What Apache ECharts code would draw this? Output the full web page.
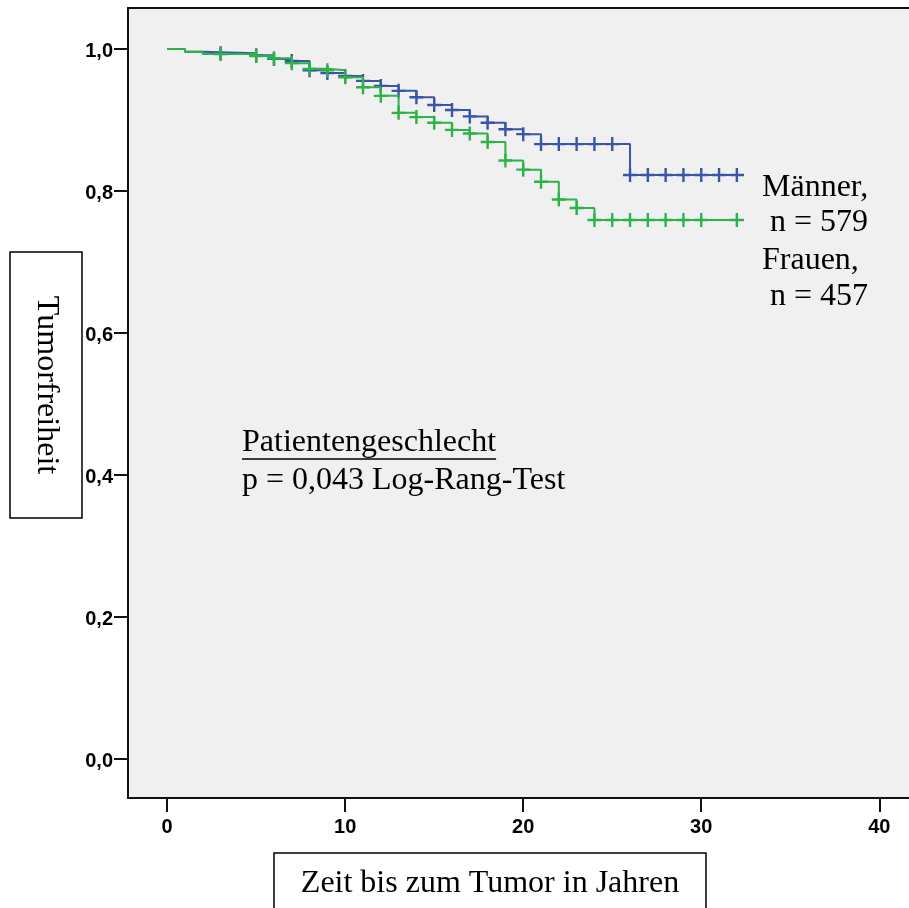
<!DOCTYPE html>
<html>
<head>
<meta charset="utf-8">
<script src="https://cdn.jsdelivr.net/npm/echarts@6/dist/echarts.min.js"></script>
<style>
html,body{margin:0;padding:0;background:#fff;}
#chart{width:909px;height:908px;}
</style>
</head>
<body>
<div id="chart"></div>
<script>
// ---- Data ----
const xTicks = [0, 10, 20, 30, 40];
const yTicks = [0, 0.2, 0.4, 0.6, 0.8, 1.0];

// Männer (blue): step times and survival level from that time on
const timesM = [0, 1, 2, 5, 6, 7, 8, 9, 10, 11, 12, 13, 14, 15, 16, 17, 18, 19, 20, 21, 26];
const survM  = [1.000, 0.996, 0.994, 0.991, 0.986, 0.983, 0.970, 0.966, 0.962, 0.955, 0.948, 0.941, 0.932, 0.921, 0.914, 0.905, 0.896, 0.887, 0.880, 0.866, 0.8225];
const endM = 32.4;
const censorM = [3, 5, 6, 7, 8, 9, 10, 11, 12, 13, 14, 15, 16, 17, 18, 19, 20, 21, 22, 23, 24, 25, 26, 27, 28, 29, 30, 31, 32];

// Frauen (green)
const timesF = [0, 1, 2, 5, 6, 7, 8, 9, 10, 11, 12, 13, 14, 15, 16, 17, 18, 19, 20, 21, 22, 23, 24];
const survF  = [1.000, 0.996, 0.993, 0.990, 0.987, 0.980, 0.972, 0.970, 0.960, 0.946, 0.934, 0.910, 0.904, 0.896, 0.886, 0.881, 0.869, 0.843, 0.830, 0.813, 0.788, 0.776, 0.759];
const endF = 32.4;
const censorF = [3, 5, 6, 7, 8, 9, 10, 11, 12, 13, 14, 15, 16, 17, 18, 19, 20, 21, 22, 23, 24, 25, 26, 27, 28, 29, 30, 32];

const legendLines = ['Männer,', ' n = 579', 'Frauen,', ' n = 457'];
const noteTitle = 'Patientengeschlecht';
const noteText = 'p = 0,043 Log-Rang-Test';
const yTitle = 'Tumorfreiheit';
const xTitle = 'Zeit bis zum Tumor in Jahren';

// ---- Helpers ----
function stepData(times, surv, end) {
  const d = times.map((t, i) => [t, surv[i]]);
  d.push([end, surv[surv.length - 1]]);
  return d;
}
function levelAt(times, surv, t) {
  let v = surv[0];
  for (let i = 0; i < times.length; i++) if (times[i] <= t) v = surv[i];
  return v;
}
const blue = '#3a55a7';
const green = '#2db24a';
const plus = 'path://M-1.2,-7h2.4v14h-2.4zM-7,-1.2h14v2.4h-14z';

const serif = '"Liberation Serif","Times New Roman",serif';
const sans = '"Liberation Sans",Arial,sans-serif';

function textWidth(txt, font) {
  const c = document.createElement('canvas').getContext('2d');
  c.font = font;
  return c.measureText(txt).width;
}
const noteFont = '32px ' + serif;
const noteW = textWidth(noteTitle, noteFont);

const chart = echarts.init(document.getElementById('chart'), null, {renderer: 'canvas'});

const frameLine = {show: true, onZero: false, lineStyle: {color: '#111', width: 2}};

const option = {
  animation: false,
  backgroundColor: '#ffffff',
  grid: {
    left: 128, top: 8, right: 0, height: 790,
    outerBoundsMode: 'none', containLabel: false,
    show: true, backgroundColor: '#f0f0f0', borderWidth: 0
  },
  xAxis: [{
    type: 'value', min: -2.2, max: 41.67, position: 'bottom',
    axisLine: frameLine,
    splitLine: {show: false},
    axisTick: {show: true, length: 14, inside: false, customValues: xTicks, lineStyle: {color: '#111', width: 2}},
    axisLabel: {customValues: xTicks, margin: 19, color: '#000', fontFamily: sans, fontWeight: 'bold', fontSize: 20,
      formatter: v => String(v)}
  }, {
    type: 'value', min: -2.2, max: 41.67, position: 'top',
    axisLine: frameLine,
    splitLine: {show: false}, axisTick: {show: false}, axisLabel: {show: false}
  }],
  yAxis: {
    type: 'value', min: -0.055, max: 1.0577, position: 'left',
    axisLine: frameLine,
    splitLine: {show: false},
    axisTick: {show: true, length: 14, inside: false, customValues: yTicks, lineStyle: {color: '#111', width: 2}},
    axisLabel: {customValues: yTicks, margin: 15, color: '#000', fontFamily: sans, fontWeight: 'bold', fontSize: 20,
      verticalAlign: 'top', lineHeight: 6,
      formatter: v => v.toFixed(1).replace('.', ',')}
  },
  series: [
    {
      type: 'line', step: 'end', showSymbol: false, silent: true,
      data: stepData(timesM, survM, endM),
      lineStyle: {color: blue, width: 2}, z: 2
    },
    {
      type: 'scatter', symbol: plus, symbolSize: 14, silent: true,
      data: censorM.map(t => [t, levelAt(timesM, survM, t)]),
      itemStyle: {color: blue, opacity: 1}, z: 3
    },
    {
      type: 'line', step: 'end', showSymbol: false, silent: true,
      data: stepData(timesF, survF, endF),
      lineStyle: {color: green, width: 2}, z: 4
    },
    {
      type: 'scatter', symbol: plus, symbolSize: 14, silent: true,
      data: censorF.map(t => [t, levelAt(timesF, survF, t)]),
      itemStyle: {color: green, opacity: 1}, z: 5
    }
  ],
  graphic: [
    {type: 'text', x: 762, y: 188, z: 10, style: {text: legendLines[0], font: '32px ' + serif, fill: '#000', textVerticalAlign: 'middle'}},
    {type: 'text', x: 762, y: 223, z: 10, style: {text: legendLines[1], font: '32px ' + serif, fill: '#000', textVerticalAlign: 'middle'}},
    {type: 'text', x: 762, y: 261, z: 10, style: {text: legendLines[2], font: '32px ' + serif, fill: '#000', textVerticalAlign: 'middle'}},
    {type: 'text', x: 762, y: 297, z: 10, style: {text: legendLines[3], font: '32px ' + serif, fill: '#000', textVerticalAlign: 'middle'}},
    {type: 'text', x: 242, y: 443, z: 10, style: {text: noteTitle, font: noteFont, fill: '#000', textVerticalAlign: 'middle'}},
    {type: 'line', z: 10, shape: {x1: 242, y1: 459, x2: 242 + noteW, y2: 459}, style: {stroke: '#000', lineWidth: 1.5}},
    {type: 'text', x: 242, y: 481, z: 10, style: {text: noteText, font: noteFont, fill: '#000', textVerticalAlign: 'middle'}},
    {type: 'rect', z: 10, shape: {x: 10, y: 252, width: 72, height: 266}, style: {fill: '#fff', stroke: '#000', lineWidth: 1.5}},
    {type: 'text', x: 46, y: 385, rotation: -Math.PI / 2, z: 11,
      style: {text: yTitle, font: '32px ' + serif, fill: '#000', textAlign: 'center', textVerticalAlign: 'middle'}},
    {type: 'rect', z: 10, shape: {x: 274, y: 853, width: 432, height: 70}, style: {fill: '#fff', stroke: '#000', lineWidth: 1.5}},
    {type: 'text', x: 490, y: 884, z: 11,
      style: {text: xTitle, font: '32px ' + serif, fill: '#000', textAlign: 'center', textVerticalAlign: 'middle'}}
  ]
};
chart.setOption(option);
</script>
</body>
</html>
